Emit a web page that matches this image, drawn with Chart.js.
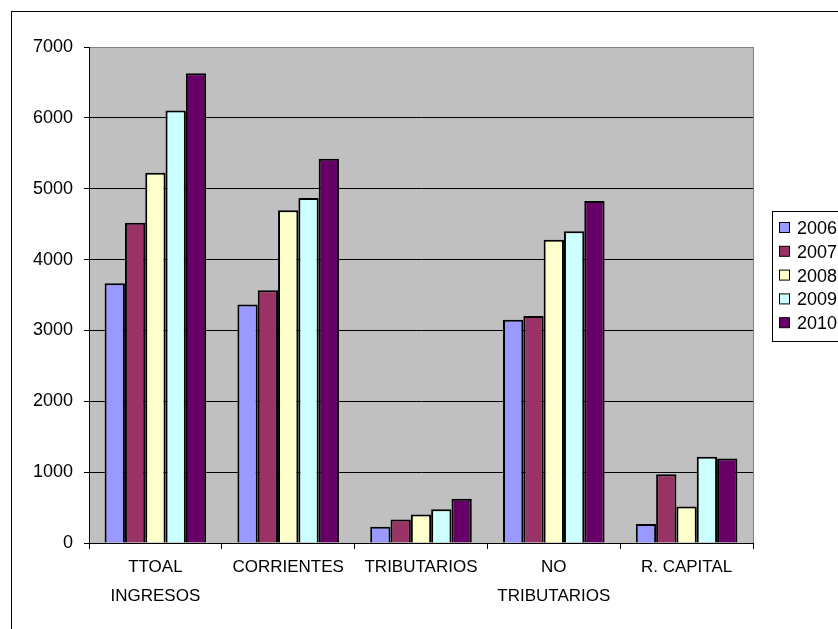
<!DOCTYPE html>
<html>
<head>
<meta charset="utf-8">
<script src="https://cdn.jsdelivr.net/npm/chart.js@4/dist/chart.umd.min.js"></script>
<style>
  html, body { margin: 0; padding: 0; background: #fff; overflow: hidden; }
  #wrap { width: 838px; height: 629px; }
</style>
</head>
<body>
<div id="wrap"><canvas id="chart" width="838" height="629"></canvas></div>
<script>
// categories (typo "TTOAL" kept as in the original)
const categories = [['TTOAL', 'INGRESOS'], 'CORRIENTES', 'TRIBUTARIOS', ['NO', 'TRIBUTARIOS'], 'R. CAPITAL'];
const years = ['2006', '2007', '2008', '2009', '2010'];
const yearColors = ['#9999FF', '#993366', '#FFFFCC', '#CCFFFF', '#660066'];

const v2006 = [3667, 3366, 229, 3151, 268];
const v2007 = [4521, 3568, 332, 3202, 972];
const v2008 = [5225, 4695, 402, 4278, 516];
const v2009 = [6103, 4869, 477, 4401, 1216];
const v2010 = [6629, 5423, 626, 4825, 1192];
const series = [v2006, v2007, v2008, v2009, v2010];

const yTicks = [0, 1000, 2000, 3000, 4000, 5000, 6000, 7000];

const FONT = "'Liberation Sans', Arial, sans-serif";

// gray plot area + outer frame
const backdrop = {
  id: 'backdrop',
  beforeDraw(chart) {
    const { ctx, chartArea: a } = chart;
    ctx.save();
    ctx.fillStyle = '#fff';
    ctx.fillRect(0, 0, chart.width, chart.height);
    ctx.strokeStyle = '#000';
    ctx.lineWidth = 1;
    ctx.strokeRect(11.5, 11.5, chart.width + 20, chart.height + 20);
    ctx.fillStyle = '#C0C0C0';
    ctx.fillRect(a.left, a.top, a.right - a.left, a.bottom - a.top);
    ctx.strokeStyle = '#808080';
    ctx.strokeRect(a.left + 0.5, a.top + 0.5, a.right - a.left, a.bottom - a.top);
    ctx.restore();
  }
};

// boxed legend on the right, partly cut by the window edge
const boxLegend = {
  id: 'boxLegend',
  afterDraw(chart) {
    const { ctx } = chart;
    const x0 = 772, y0 = 211;
    ctx.save();
    ctx.fillStyle = '#fff';
    ctx.fillRect(x0, y0, 120, 130);
    ctx.strokeStyle = '#000';
    ctx.lineWidth = 1;
    ctx.strokeRect(x0 + 0.5, y0 + 0.5, 120, 130);
    ctx.font = '18px ' + FONT;
    ctx.textBaseline = 'middle';
    chart.data.datasets.forEach((ds, i) => {
      const cy = 228 + i * 23.8;
      ctx.fillStyle = ds.backgroundColor;
      ctx.fillRect(779.5, cy - 5.5, 10, 10);
      ctx.strokeStyle = '#000';
      ctx.strokeRect(779.5, cy - 5.5, 10, 10);
      ctx.fillStyle = '#000';
      ctx.fillText(ds.label, 797, cy + 1);
    });
    ctx.restore();
  }
};

new Chart(document.getElementById('chart'), {
  type: 'bar',
  data: {
    labels: categories,
    datasets: years.map((y, i) => ({
      label: y,
      data: series[i],
      backgroundColor: yearColors[i],
      borderColor: '#000',
      borderWidth: 2,
      categoryPercentage: 0.765,
      barPercentage: 1
    }))
  },
  options: {
    responsive: false,
    animation: false,
    events: [],
    layout: { padding: { left: 0, top: 47, right: 85, bottom: 0 } },
    plugins: { legend: { display: false }, tooltip: { enabled: false } },
    scales: {
      x: {
        afterFit(s) { s.height = 86; },
        border: { color: '#000', width: 1 },
        grid: { drawOnChartArea: false, drawTicks: true, tickLength: 6, color: '#000', offset: true },
        ticks: {
          color: '#000', padding: 4, maxRotation: 0, autoSkip: false,
          font: { family: FONT, size: 17, lineHeight: '29px' }
        }
      },
      y: {
        min: 0, max: 7000,
        afterFit(s) { s.width = 89; },
        afterBuildTicks(s) { s.ticks = yTicks.map(v => ({ value: v })); },
        border: { color: '#000', width: 1 },
        grid: {
          color: ctx => (ctx.tick && ctx.tick.value === 7000) ? '#808080' : '#000',
          tickColor: '#000', tickLength: 5, lineWidth: 1
        },
        ticks: { color: '#000', padding: 11, font: { family: FONT, size: 18 }, callback: v => String(v) }
      }
    }
  },
  plugins: [backdrop, boxLegend]
});
</script>
</body>
</html>
